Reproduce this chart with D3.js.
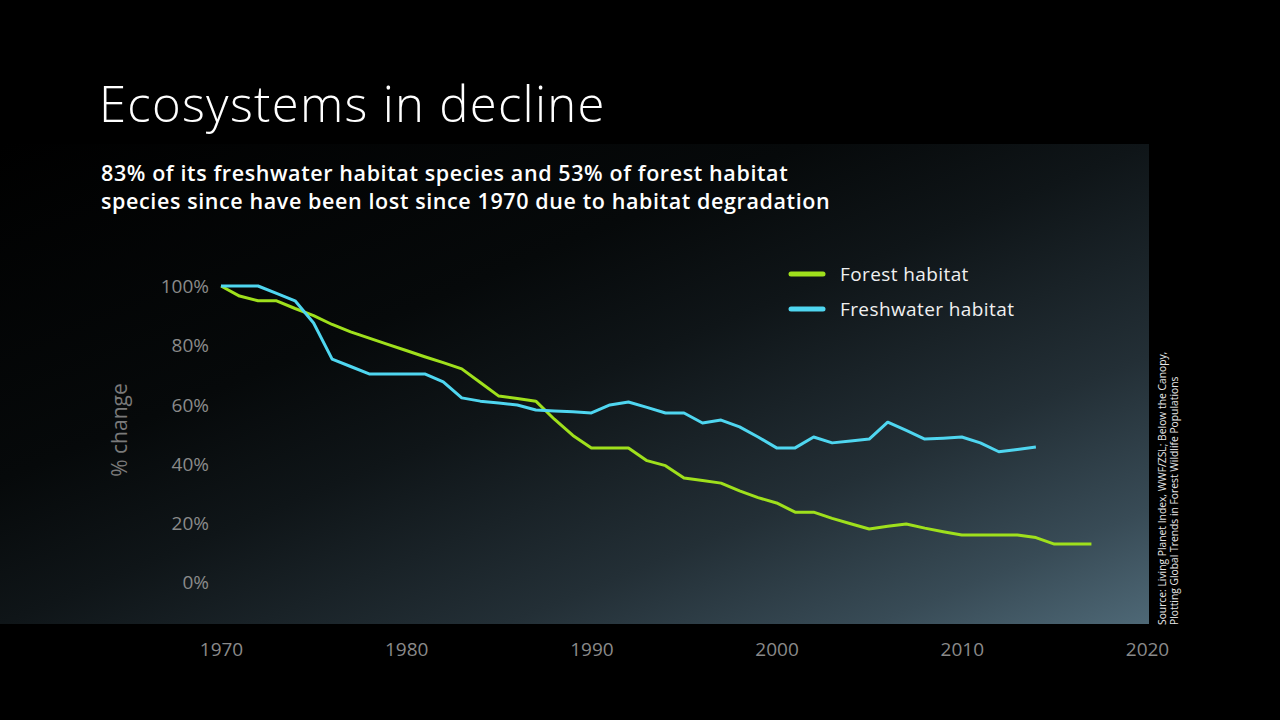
<!DOCTYPE html>
<html>
<head>
<meta charset="utf-8">
<script src="https://cdn.jsdelivr.net/npm/d3@7"></script>
<style>
  html, body { margin: 0; padding: 0; background: #000; }
  svg { display: block; }
</style>
</head>
<body>
<svg id="chart" width="1280" height="720"></svg>
<script>
// ---- Data ----
const forestYears = [1970,1971,1972,1973,1974,1975,1976,1977,1978,1979,1980,1981,1982,1983,1984,1985,1986,1987,1988,1989,1990,1991,1992,1993,1994,1995,1996,1997,1998,1999,2000,2001,2002,2003,2004,2005,2006,2007,2008,2009,2010,2011,2012,2013,2014,2015,2016,2017];
const forestValues = [100,96.6,95,95,92.4,90,87,84.5,82.4,80.3,78.2,76.1,74.1,72,67.4,62.8,62,61.1,55,49.5,45.3,45.3,45.3,41,39.3,35.1,34.3,33.4,30.8,28.5,26.7,23.6,23.6,21.5,19.7,17.9,18.8,19.6,18.2,17,15.9,15.9,15.9,15.9,15,12.8,12.8,12.8];
const freshYears = [1970,1971,1972,1973,1974,1975,1976,1977,1978,1979,1980,1981,1982,1983,1984,1985,1986,1987,1988,1989,1990,1991,1992,1993,1994,1995,1996,1997,1998,1999,2000,2001,2002,2003,2004,2005,2006,2007,2008,2009,2010,2011,2012,2013,2014];
const freshValues = [100,100,100,97.5,95,87.5,75.3,72.8,70.3,70.3,70.3,70.3,67.6,62.2,61.1,60.5,59.8,58.1,57.8,57.5,57.1,59.8,60.8,59,57.1,57.1,53.7,54.7,52.4,49,45.3,45.3,49,47,47.6,48.3,54,51.2,48.3,48.6,49,47,44,44.8,45.6];
const seriesNames = ["Forest habitat", "Freshwater habitat"];
const seriesColors = ["#9fe01c", "#4fd6f0"];
const xTicks = [1970,1980,1990,2000,2010,2020];
const yTicks = [0,20,40,60,80,100];
const titleText = "Ecosystems in decline";
const subtitleLines = ["83% of its freshwater habitat species and 53% of forest habitat",
                       "species since have been lost since 1970 due to habitat degradation"];
const sourceLines = ["Source: Living Planet Index, WWF/ZSL; Below the Canopy,",
                     "Plotting Global Trends in Forest Wildlife Populations"];

// ---- Layout ----
const svg = d3.select("#chart");
const font = "'Open Sans', 'Noto Sans', sans-serif";

const defs = svg.append("defs");
const grad = defs.append("linearGradient").attr("id", "bg")
  .attr("x1", 0).attr("y1", 0).attr("x2", 1).attr("y2", 1);
[[0,"#000000"],[0.35,"#06090a"],[0.5,"#0f1518"],[0.72,"#232f36"],[0.88,"#384b56"],[1,"#4e6876"]]
  .forEach(([o,c]) => grad.append("stop").attr("offset", o).attr("stop-color", c));

svg.append("rect").attr("x", 0).attr("y", 0).attr("width", 1280).attr("height", 720).attr("fill", "#000");
svg.append("rect").attr("x", 0).attr("y", 144).attr("width", 1149).attr("height", 480).attr("fill", "url(#bg)");

const x = d3.scaleLinear().domain([1970, 2020]).range([221, 1147]);
const y = d3.scaleLinear().domain([0, 100]).range([582, 286]);

// Title
svg.append("text").attr("x", 99).attr("y", 122)
  .attr("font-family", font).attr("font-weight", 300).attr("font-size", 49)
  .attr("letter-spacing", 1.3)
  .attr("fill", "#fff").text(titleText);

svg.append("g").selectAll("text").data(subtitleLines).join("text")
  .attr("x", 101).attr("y", (d,i) => 181 + i*28)
  .attr("font-family", font).attr("font-weight", 600).attr("font-size", 21.5)
  .attr("letter-spacing", 0.6)
  .attr("fill", "#fff").text(d => d);

// Axes (labels only)
const yAxis = d3.axisLeft(y).tickValues(yTicks).tickFormat(d => d + "%").tickSize(0).tickPadding(0);
const gy = svg.append("g").attr("transform", "translate(209,0)").call(yAxis);
gy.select(".domain").remove();
gy.selectAll("text").attr("font-family", font).attr("font-size", 19).attr("fill", "#8a8a8a").attr("dy", "0.35em");

const xAxis = d3.axisBottom(x).tickValues(xTicks).tickFormat(d3.format("d")).tickSize(0).tickPadding(0);
const gx = svg.append("g").attr("transform", "translate(0,642)").call(xAxis);
gx.select(".domain").remove();
gx.selectAll("text").attr("font-family", font).attr("font-size", 19).attr("fill", "#8a8a8a").attr("dy", "0.71em");

svg.append("text").attr("transform", "translate(127,430) rotate(-90)")
  .attr("text-anchor", "middle").attr("font-family", font).attr("font-size", 21)
  .attr("fill", "#7a7a7a").text("% change");

// Lines
const line = d3.line().x(d => x(d[0])).y(d => y(d[1]));
const series = [
  d3.zip(forestYears, forestValues),
  d3.zip(freshYears, freshValues)
];
svg.append("g").selectAll("path").data(series).join("path")
  .attr("d", line).attr("fill", "none")
  .attr("stroke", (d,i) => seriesColors[i]).attr("stroke-width", 3)
  .attr("stroke-linejoin", "round").attr("stroke-linecap", "butt");

// Legend
const lg = svg.append("g").selectAll("g").data(seriesNames).join("g")
  .attr("transform", (d,i) => `translate(789,${274 + i*35})`);
lg.append("line").attr("x1", 2).attr("x2", 34).attr("y1", 0).attr("y2", 0)
  .attr("stroke", (d,i) => seriesColors[i]).attr("stroke-width", 5).attr("stroke-linecap", "round");
lg.append("text").attr("x", 51).attr("y", 0).attr("dy", "0.35em")
  .attr("font-family", font).attr("font-size", 19).attr("letter-spacing", 0.4)
  .attr("fill", "#f0f0f0").text(d => d);

// Source
svg.append("g").selectAll("text").data(sourceLines).join("text")
  .attr("transform", (d,i) => `translate(${1166 + i*12},625) rotate(-90)`)
  .attr("font-family", font).attr("font-size", 10.3).attr("fill", "#e6e6e6").text(d => d);
</script>
</body>
</html>
